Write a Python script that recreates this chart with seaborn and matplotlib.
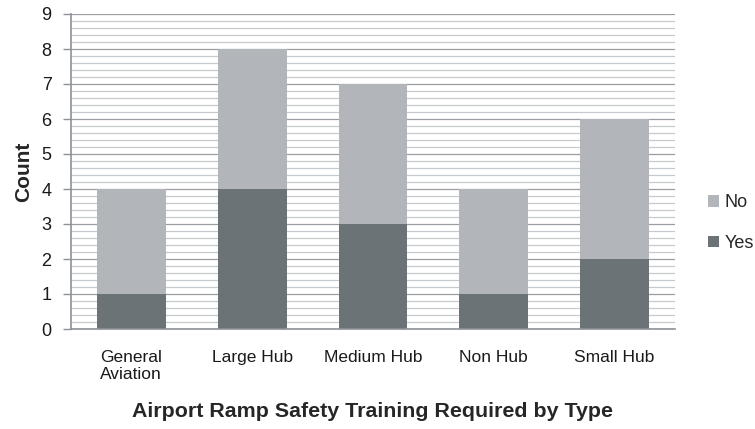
import matplotlib
matplotlib.use("Agg")
import matplotlib.pyplot as plt
from matplotlib.ticker import MultipleLocator
import pandas as pd
import seaborn as sns

# Datos
airport_types = ["General\nAviation", "Large Hub", "Medium Hub", "Non Hub", "Small Hub"]
yes_counts = [1, 4, 3, 1, 2]
no_counts = [3, 4, 4, 3, 4]

df = pd.DataFrame({"Type": airport_types, "Yes": yes_counts, "No": no_counts})
df["Total"] = df["Yes"] + df["No"]

sns.set_style("white")
plt.rcParams["font.family"] = ["Liberation Sans", "DejaVu Sans"]

fig = plt.figure(figsize=(7.55, 4.29), dpi=100)
ax = fig.add_axes([71 / 755, 1 - 329 / 429, 604 / 755, 315 / 429])

# Barras apiladas: total (No encima) y luego Yes abajo
sns.barplot(data=df, x="Type", y="Total", color="#B2B6BB", width=0.57,
            saturation=1, linewidth=0, label="No", ax=ax)
sns.barplot(data=df, x="Type", y="Yes", color="#6C7376", width=0.57,
            saturation=1, linewidth=0, label="Yes", ax=ax)

ax.set_ylim(0, 9)
ax.yaxis.set_major_locator(MultipleLocator(1))
ax.yaxis.set_minor_locator(MultipleLocator(0.2))
ax.set_axisbelow(True)
ax.grid(axis="y", which="major", color="#9A9EA2", linewidth=0.9)
ax.grid(axis="y", which="minor", color="#C6C9CD", linewidth=0.9)

for side in ["top", "right"]:
    ax.spines[side].set_visible(False)
for side in ["left", "bottom"]:
    ax.spines[side].set_color("#8E9297")
    ax.spines[side].set_linewidth(1.2)

ax.tick_params(axis="y", which="major", length=6, color="#8E9297", width=1,
               labelsize=13, labelcolor="#1a1a1a", pad=8, left=True)
ax.tick_params(axis="y", which="minor", length=0)
ax.tick_params(axis="x", length=0, labelsize=12.5, labelcolor="#1a1a1a", pad=15)
for lbl in ax.get_xticklabels():
    lbl.set_multialignment("left")

ax.set_ylabel("Count", fontsize=15, fontweight="bold", labelpad=6)
ax.set_xlabel("Airport Ramp Safety Training Required by Type", fontsize=15.4,
              fontweight="bold", labelpad=14)

ax.legend(loc="center left", bbox_to_anchor=(699 / 755, 1 - 223 / 429),
          bbox_transform=fig.transFigure, frameon=False, fontsize=13,
          handlelength=0.6, handleheight=0.6, handletextpad=0.3,
          labelspacing=1.3, borderpad=0)

fig.savefig("out.png", dpi=100)
